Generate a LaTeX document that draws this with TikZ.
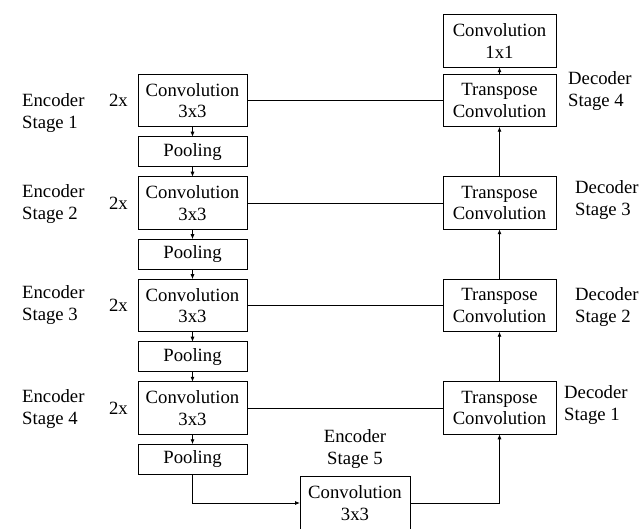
\documentclass[tikz,border=0pt]{standalone}
\usepackage{fontspec}
\setmainfont{Liberation Serif}
\usetikzlibrary{arrows.meta,positioning}
\newcommand\unetfont{\rmfamily\fontsize{18.7}{21.6}\selectfont}

\begin{document}
\begin{tikzpicture}[x=1pt,y=1pt,font=\unetfont,>={Latex[length=5pt,width=4pt]},node distance=10pt,
  convbox/.style={draw,line width=1pt,outer sep=0pt,minimum width=109pt,minimum height=52.5pt,align=center,inner sep=0pt},
  poolbox/.style={draw,line width=1pt,outer sep=0pt,minimum width=109pt,minimum height=30pt,inner sep=0pt},
  decbox/.style={convbox,minimum width=113pt},
  stagelabel/.style={align=left,anchor=west,inner sep=0pt},
  link/.style={line width=0.8pt}]
  \useasboundingbox (0,0) rectangle (640,-529);
  % encoder column
  \node[convbox] (conv1) at (192.5,-100.5) {Convolution\\3x3};
  \node[poolbox,below=of conv1] (pool1) {Pooling};
  \node[convbox,below=of pool1] (conv2) {Convolution\\3x3};
  \node[poolbox,below=of conv2] (pool2) {Pooling};
  \node[convbox,below=of pool2] (conv3) {Convolution\\3x3};
  \node[poolbox,below=of conv3] (pool3) {Pooling};
  \node[convbox,below=of pool3] (conv4) {Convolution\\3x3};
  \node[poolbox,below=of conv4] (pool4) {Pooling};
  \node[convbox,minimum width=110pt] (conv5) at (355,-503) {Convolution\\3x3};
  \node[align=center,inner sep=0pt,above=8pt of conv5] (enc5) {Encoder\\Stage 5};
  % decoder column
  \node[decbox,right=196pt of conv1] (dec4) {Transpose\\Convolution};
  \node[decbox,right=196pt of conv2] (dec3) {Transpose\\Convolution};
  \node[decbox,right=196pt of conv3] (dec2) {Transpose\\Convolution};
  \node[decbox,right=196pt of conv4] (dec1) {Transpose\\Convolution};
  \node[decbox,above=7pt of dec4] (out) {Convolution\\1x1};
  % stage labels
  \node[stagelabel] (enc1) at (22,-113) {Encoder\\Stage 1};
  \node[stagelabel] (enc2) at (22,-204) {Encoder\\Stage 2};
  \node[stagelabel] (enc3) at (22,-305) {Encoder\\Stage 3};
  \node[stagelabel] (enc4) at (22,-409) {Encoder\\Stage 4};
  \foreach \i in {1,2,3,4}
    \node[inner sep=0pt,left=10pt of conv\i] (rep\i) {2x};
  \node[stagelabel] (lab4) at (568,-91) {Decoder\\Stage 4};
  \node[stagelabel] (lab3) at (575,-200) {Decoder\\Stage 3};
  \node[stagelabel] (lab2) at (575,-307) {Decoder\\Stage 2};
  \node[stagelabel] (lab1) at (564,-405) {Decoder\\Stage 1};
  % connections
  \foreach \a/\b in {conv1/pool1,pool1/conv2,conv2/pool2,pool2/conv3,conv3/pool3,pool3/conv4,conv4/pool4,dec1/dec2,dec2/dec3,dec3/dec4,dec4/out}
    \draw[link,->] (\a) -- (\b);
  \foreach \a/\b in {conv1/dec4,conv2/dec3,conv3/dec2,conv4/dec1}
    \draw[link] (\a) -- (\b);
  \draw[link,->] (pool4.south) |- (conv5.west);
  \draw[link,->] (conv5.east) -| (dec1.south);
\end{tikzpicture}
\end{document}
